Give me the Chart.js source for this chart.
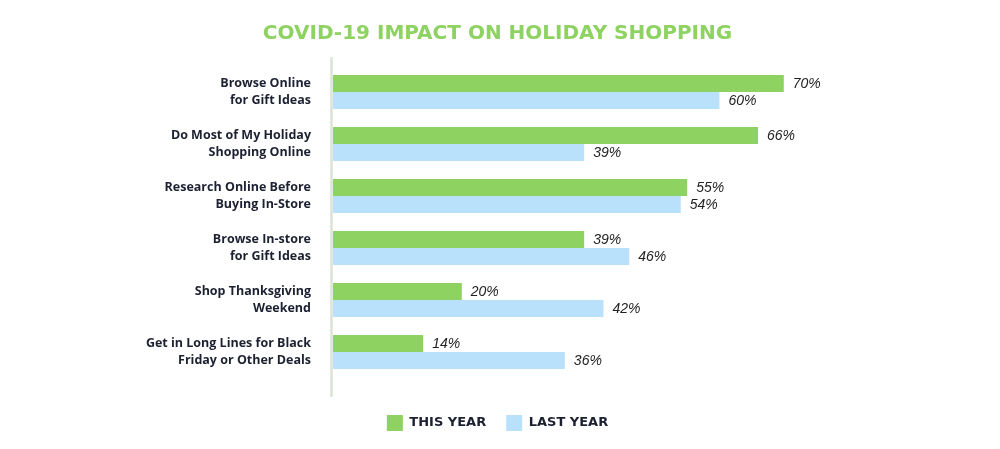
<!DOCTYPE html>
<html>
<head>
<meta charset="utf-8">
<script src="https://cdn.jsdelivr.net/npm/chart.js@4/dist/chart.umd.min.js"></script>
<style>
	html, body { margin: 0; padding: 0; background: #ffffff; }
	#wrap { width: 1000px; height: 449px; position: relative; }
</style>
</head>
<body>
<div id="wrap"><canvas id="chart"></canvas></div>
<script>
const categories = [
	["Browse Online", "for Gift Ideas"],
	["Do Most of My Holiday", "Shopping Online"],
	["Research Online Before", "Buying In-Store"],
	["Browse In-store", "for Gift Ideas"],
	["Shop Thanksgiving", "Weekend"],
	["Get in Long Lines for Black", "Friday or Other Deals"],
];
const thisYear = [70, 66, 55, 39, 20, 14];
const lastYear = [60, 39, 54, 46, 42, 36];
const seriesNames = ["THIS YEAR", "LAST YEAR"];

const GREEN = "#8ed262";
const BLUE = "#b9e1fb";
const TEXT = "#1c2030";

// value labels at the end of each bar
const valueLabels = {
	id: "valueLabels",
	afterDatasetsDraw(chart) {
		const ctx = chart.ctx;
		ctx.save();
		ctx.font = "italic 14px 'Liberation Sans', Arial, sans-serif";
		ctx.fillStyle = "#222222";
		ctx.textBaseline = "middle";
		ctx.textAlign = "left";
		chart.data.datasets.forEach((ds, i) => {
			chart.getDatasetMeta(i).data.forEach((bar, j) => {
				ctx.fillText(ds.data[j] + "%", bar.x + 9, bar.y + 1);
			});
		});
		ctx.restore();
	},
};

// vertical axis line, a bit taller than the category area
const axisLine = {
	id: "axisLine",
	beforeDatasetsDraw(chart) {
		const ctx = chart.ctx;
		const a = chart.chartArea;
		ctx.save();
		ctx.strokeStyle = "#dbe3d6";
		ctx.lineWidth = 2.5;
		ctx.beginPath();
		ctx.moveTo(a.left - 1.5, a.top - 9);
		ctx.lineTo(a.left - 1.5, a.bottom + 19);
		ctx.stroke();
		ctx.restore();
	},
};

new Chart(document.getElementById("chart"), {
	type: "bar",
	data: {
		labels: categories,
		datasets: [
			{ label: seriesNames[0], data: thisYear, backgroundColor: GREEN },
			{ label: seriesNames[1], data: lastYear, backgroundColor: BLUE },
		],
	},
	options: {
		indexAxis: "y",
		responsive: true,
		maintainAspectRatio: false,
		animation: false,
		layout: { padding: { left: 18, right: 23, top: 0, bottom: 8 } },
		datasets: { bar: { categoryPercentage: 0.655, barPercentage: 1 } },
		plugins: {
			title: {
				display: true,
				text: "COVID-19 IMPACT ON HOLIDAY SHOPPING",
				color: "#8ed262",
				font: { family: "'DejaVu Sans', sans-serif", size: 20, weight: "bold" },
				padding: { top: 22, bottom: 20 },
			},
			legend: {
				position: "bottom",
				labels: {
					color: TEXT,
					boxWidth: 16,
					boxHeight: 16,
					padding: 20,
					font: { family: "'DejaVu Sans', sans-serif", size: 13, weight: "bold" },
				},
			},
			tooltip: { enabled: false },
		},
		scales: {
			x: {
				min: 0,
				max: 100,
				grid: { display: false },
				border: { display: false },
				ticks: { display: false },
				afterFit(scale) { scale.height = 17; },
			},
			y: {
				grid: { display: false },
				border: { display: false },
				ticks: {
					color: TEXT,
					padding: 14,
					font: { family: "'Open Sans', sans-serif", size: 12.5, weight: "bold", lineHeight: 1.3 },
				},
				afterFit(scale) { scale.width = 315; },
			},
		},
	},
	plugins: [valueLabels, axisLine],
});
</script>
</body>
</html>
